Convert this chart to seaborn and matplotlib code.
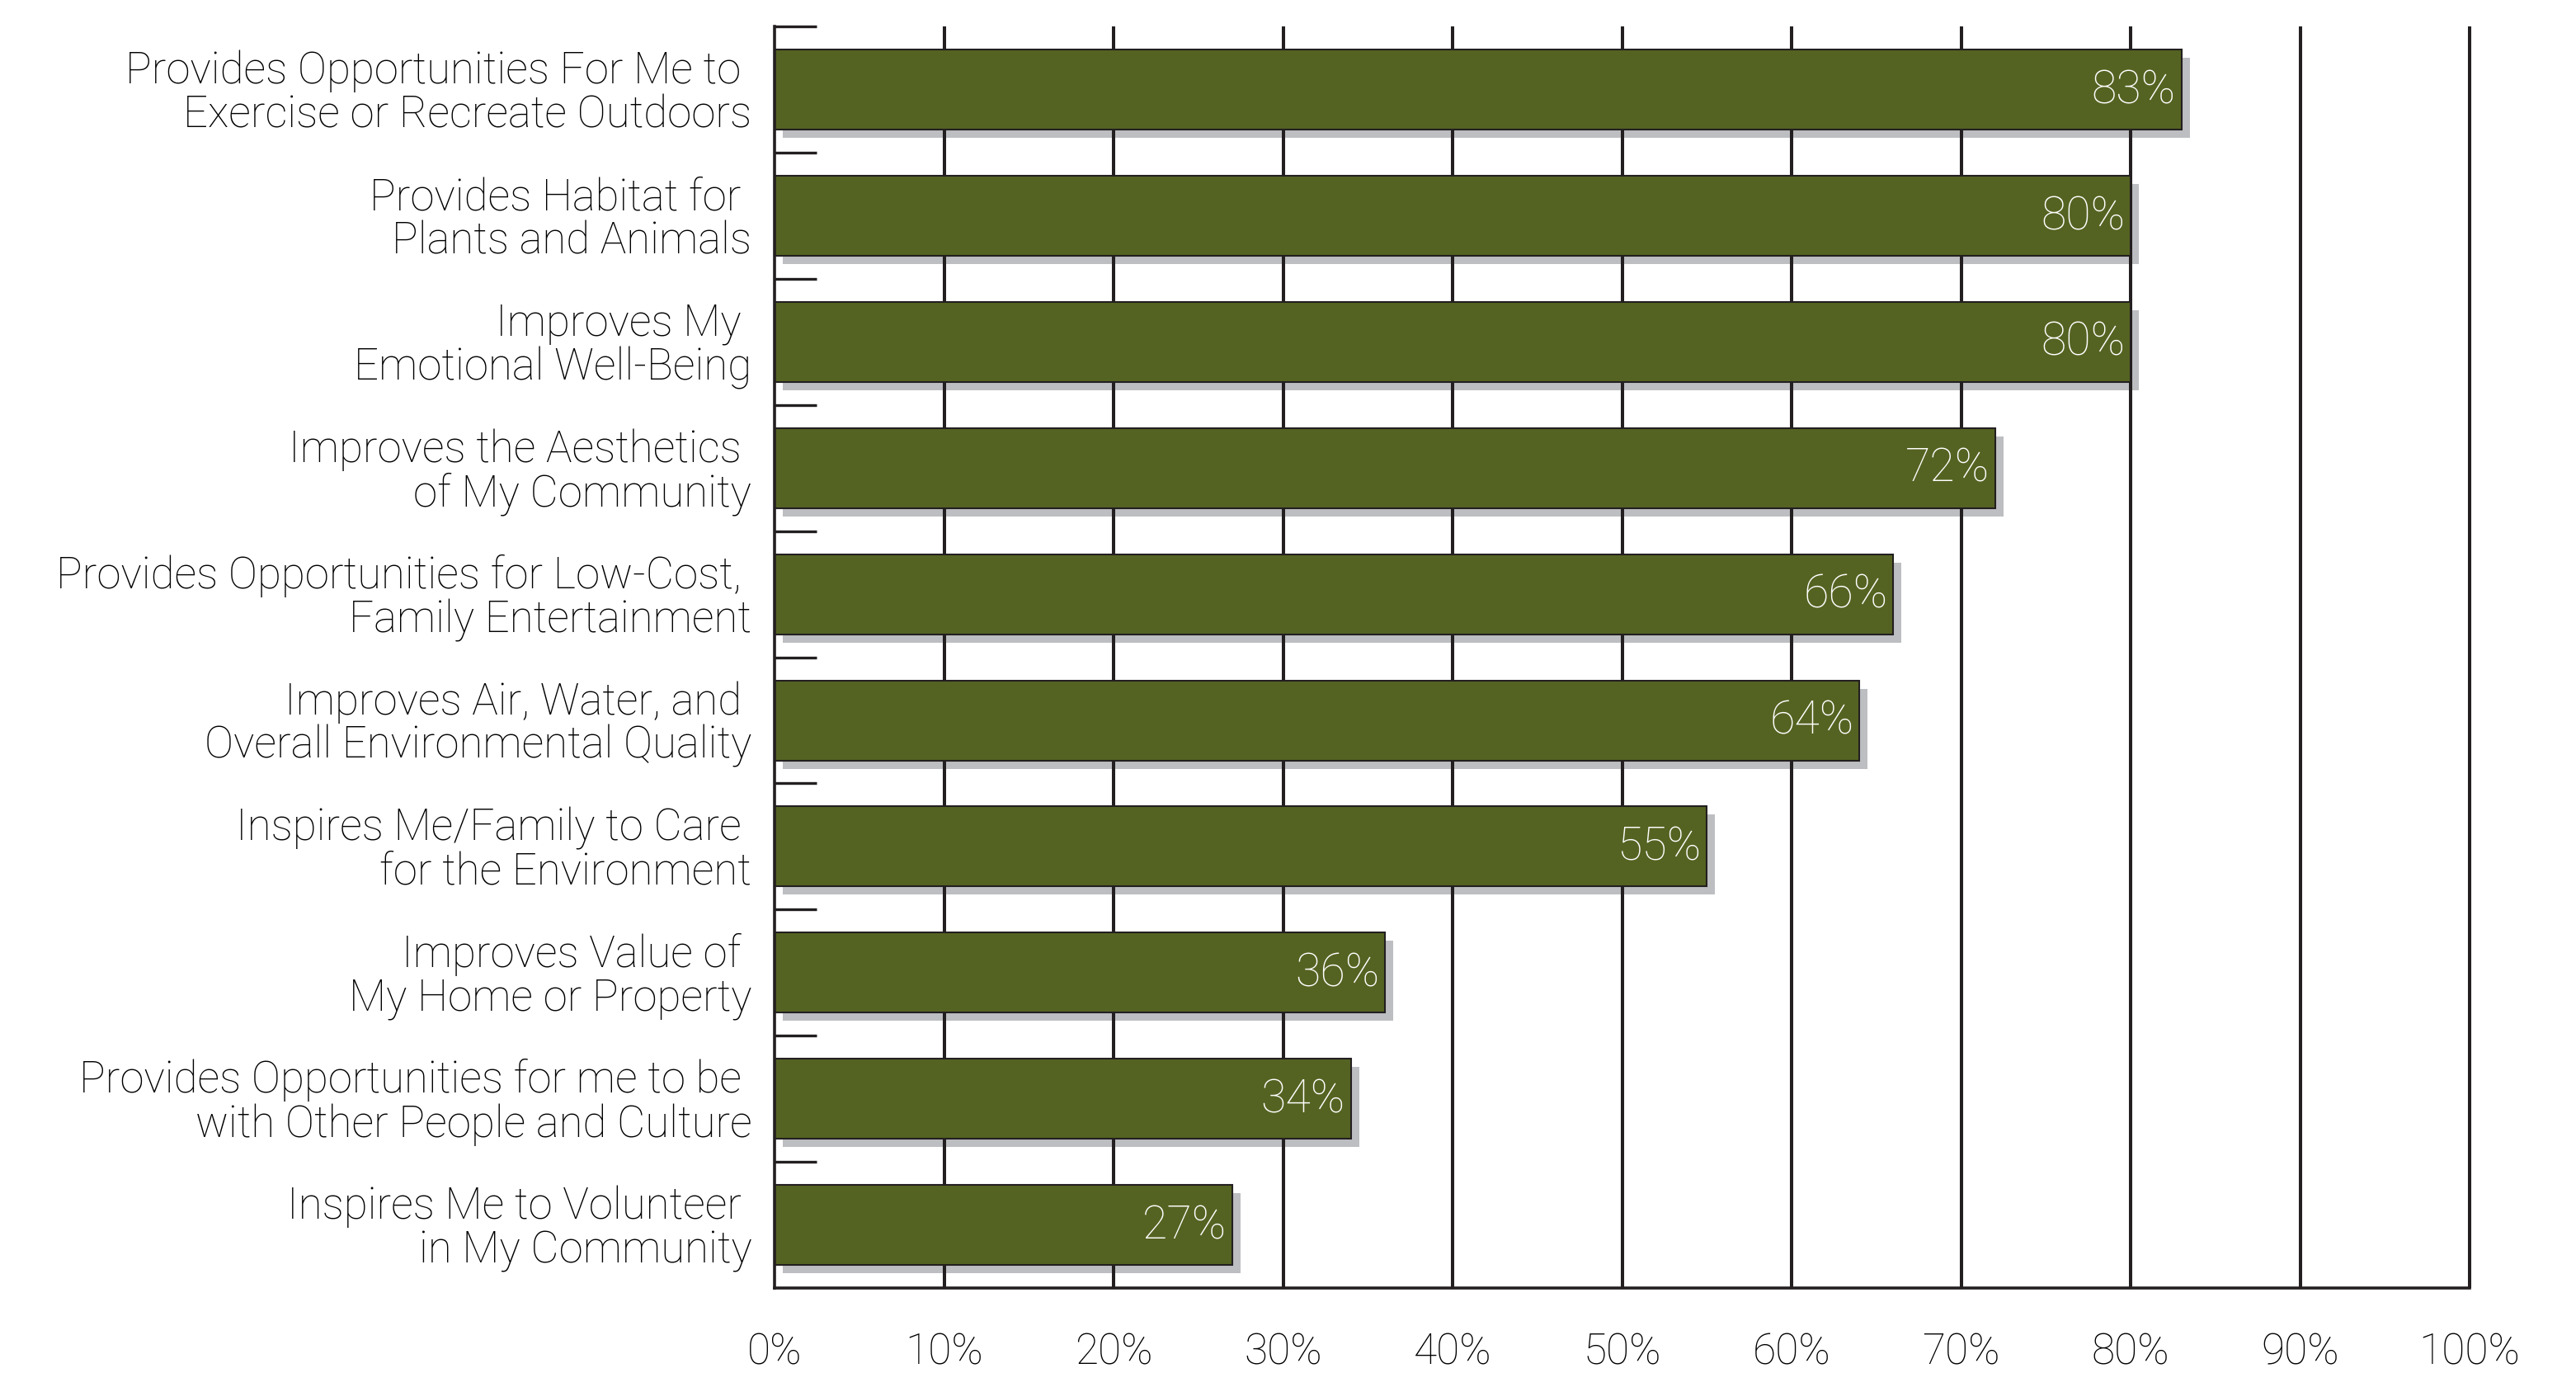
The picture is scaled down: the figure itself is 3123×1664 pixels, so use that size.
import matplotlib
matplotlib.use("Agg")
import matplotlib.pyplot as plt
import matplotlib.transforms as mtransforms
from matplotlib.patches import Rectangle
import seaborn as sns
import pandas as pd

categories = [
    "Provides Opportunities For Me to \nExercise or Recreate Outdoors",
    "Provides Habitat for \nPlants and Animals",
    "Improves My \nEmotional Well-Being",
    "Improves the Aesthetics \nof My Community",
    "Provides Opportunities for Low-Cost, \nFamily Entertainment",
    "Improves Air, Water, and \nOverall Environmental Quality",
    "Inspires Me/Family to Care \nfor the Environment",
    "Improves Value of \nMy Home or Property",
    "Provides Opportunities for me to be \nwith Other People and Culture",
    "Inspires Me to Volunteer \nin My Community",
]
values = [83, 80, 80, 72, 66, 64, 55, 36, 34, 27]
x_ticks = [0, 10, 20, 30, 40, 50, 60, 70, 80, 90, 100]
x_tick_labels = ["0%", "10%", "20%", "30%", "40%", "50%", "60%", "70%", "80%", "90%", "100%"]

BAR = "#556322"
SHADOW = "#bdbec1"
LINE = "#231f20"
DPI = 100

sns.set_theme(style="white")
plt.rcParams["font.family"] = ["Roboto", "DejaVu Sans"]

fig = plt.figure(figsize=(31.23, 16.65), dpi=DPI)
ax = fig.add_axes([0.3007, 0.0619, 0.9587 - 0.3007, 0.980 - 0.0619])

df = pd.DataFrame({"cat": categories, "val": values})
sns.barplot(data=df, x="val", y="cat", orient="h", color=BAR, saturation=1,
            width=0.634, edgecolor=LINE, linewidth=1.5, ax=ax, zorder=2)

n = len(categories)
ax.set_xlim(0, 100)
ax.set_ylim(n - 0.5, -0.5)

# drop shadows
shadow_tr = mtransforms.offset_copy(ax.transData, fig=fig, x=10, y=-10, units="dots")
for p in ax.patches[:]:
    r = Rectangle(p.get_xy(), p.get_width(), p.get_height(), transform=shadow_tr,
                  facecolor=SHADOW, edgecolor="none", zorder=0.5)
    ax.add_patch(r)

# vertical gridlines
ax.vlines(x_ticks[1:], -0.5, n - 0.5, colors=LINE, linewidth=2.9, zorder=1, clip_on=False)

for s in ["top", "right"]:
    ax.spines[s].set_visible(False)
for s in ["left", "bottom"]:
    ax.spines[s].set_color(LINE)
    ax.spines[s].set_linewidth(2.6)
    ax.spines[s].set_zorder(3)

ax.set_xticks(x_ticks)
ax.set_xticklabels(x_tick_labels, fontsize=37, color="#000000", fontweight="light")
ax.tick_params(axis="x", length=0, pad=38)

ax.set_yticks(range(n))
ax.set_yticklabels(categories, fontsize=38, color="#000000", fontweight="light",
                   linespacing=1.04)
ax.tick_params(axis="y", which="major", length=0, pad=20)
ax.set_yticks([i - 0.5 for i in range(n)], minor=True)
ax.tick_params(axis="y", which="minor", direction="in", length=37, width=2.4,
               color=LINE, left=True)
for lbl in ax.get_yticklabels():
    lbl.set_transform(lbl.get_transform() + mtransforms.ScaledTranslation(0, 3 / DPI, fig.dpi_scale_trans))

ax.set_xlabel("")
ax.set_ylabel("")

for i, v in enumerate(values):
    ax.annotate(f"{v}%", xy=(v, i), xytext=(-5, 0), textcoords="offset points",
                ha="right", va="center", color="white", fontsize=40,
                fontweight="light", zorder=4)

fig.savefig("out.png", dpi=DPI, facecolor="white")
